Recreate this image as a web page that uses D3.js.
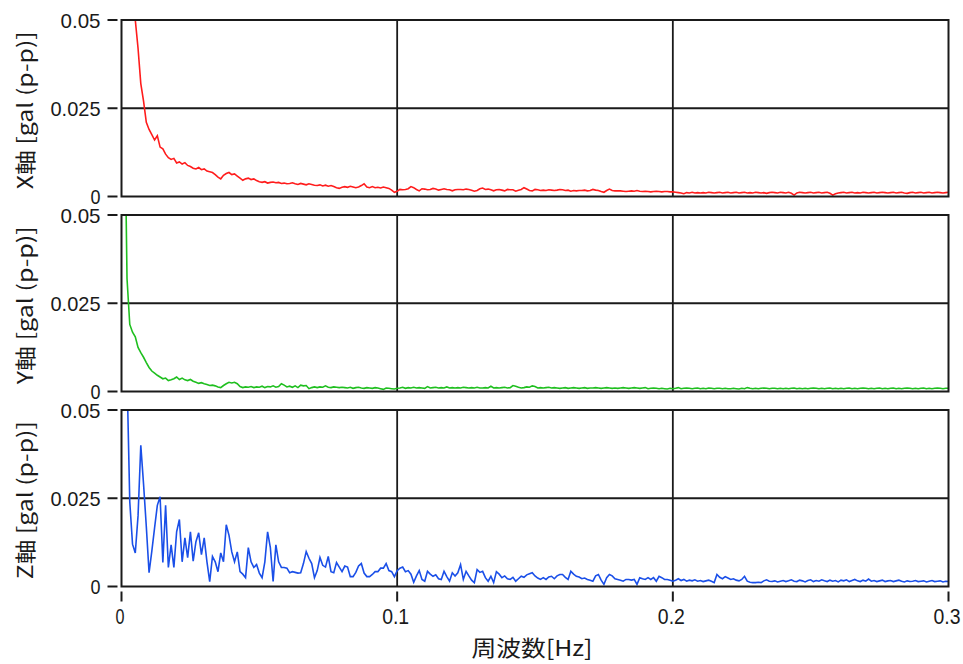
<html>
<head>
<meta charset="utf-8">
<script src="https://d3js.org/d3.v7.min.js"></script>
<style>
  body { margin: 0; background: #fff; }
  text { fill: #1a1a1a; }
</style>
</head>
<body>
<script>
// frequency grid: one value every 0.001 Hz, starting at 0.001 Hz
var fStep = 0.001;
var xTicks = [0, 0.1, 0.2, 0.3];
var xTickLabels = ["0", "0.1", "0.2", "0.3"];
var yTicks = [0, 0.025, 0.05];
var yTickLabels = ["0", "0.025", "0.05"];
var axisNames = ["X軸 [gal (p-p)]", "Y軸 [gal (p-p)]", "Z軸 [gal (p-p)]"];
var xTitle = "周波数[Hz]";
var lineColors = ["#ff1c1c", "#1fbf1f", "#1a4fe8"];

// X軸
var ampX = [
  0.12, 0.075, 0.062, 0.055, 0.05, 0.042, 0.032, 0.027, 0.021, 0.019,
  0.0175, 0.016, 0.0172, 0.014, 0.0135, 0.012, 0.011, 0.0105, 0.0108, 0.0095,
  0.0098, 0.0092, 0.0096, 0.0088, 0.0085, 0.008, 0.0078, 0.0082, 0.0076, 0.0078,
  0.0072, 0.007, 0.0068, 0.0062, 0.0055, 0.005, 0.006, 0.0065, 0.0068, 0.0062,
  0.0064, 0.0058, 0.0052, 0.0046, 0.005, 0.0052, 0.0048, 0.005, 0.0045, 0.0042,
  0.004, 0.0042, 0.0038, 0.004, 0.0041, 0.0039, 0.004, 0.0037, 0.0038, 0.0036,
  0.0037, 0.0039, 0.0036, 0.0034, 0.0037, 0.0035, 0.0033, 0.0036, 0.0034, 0.0032,
  0.0031, 0.0033, 0.003, 0.0032, 0.0029, 0.0031, 0.0028, 0.0025, 0.0023, 0.0026,
  0.0028, 0.0026, 0.0029, 0.0027, 0.0025, 0.0027, 0.0031, 0.0036, 0.0027, 0.0025,
  0.0028, 0.0025, 0.0026, 0.0024, 0.0027, 0.0025, 0.0023, 0.0018, 0.0012, 0.0015,
  0.002, 0.0019, 0.002, 0.0022, 0.0028, 0.0025, 0.002, 0.0016, 0.0022, 0.0021,
  0.0019, 0.002, 0.0023, 0.0021, 0.0018, 0.002, 0.0022, 0.002, 0.0019, 0.0016,
  0.0019, 0.002, 0.002, 0.0019, 0.0021, 0.002, 0.0018, 0.0015, 0.0017, 0.0022,
  0.0024, 0.002, 0.0021, 0.0019, 0.0016, 0.0019, 0.002, 0.0018, 0.0016, 0.002,
  0.0019, 0.0019, 0.0015, 0.0018, 0.002, 0.0025, 0.0021, 0.0017, 0.0016, 0.002,
  0.0019, 0.0017, 0.0018, 0.0017, 0.0019, 0.0018, 0.0017, 0.0018, 0.002, 0.0019,
  0.0017, 0.0018, 0.0015, 0.0017, 0.0016, 0.0017, 0.0017, 0.0018, 0.0016, 0.0017,
  0.002, 0.0018, 0.0017, 0.0014, 0.0012, 0.0017, 0.0021, 0.0017, 0.0016, 0.0016,
  0.0016, 0.0015, 0.0014, 0.0015, 0.0016, 0.0015, 0.0017, 0.0015, 0.0014, 0.0015,
  0.0014, 0.0013, 0.0014, 0.0015, 0.0014, 0.0013, 0.0014, 0.0014, 0.0013, 0.0013,
  0.0012, 0.0011, 0.001, 0.0008, 0.0011, 0.001, 0.0012, 0.001, 0.0011, 0.001,
  0.0011, 0.001, 0.0012, 0.0011, 0.001, 0.0011, 0.0012, 0.001, 0.0011, 0.0012,
  0.001, 0.0011, 0.0012, 0.001, 0.0011, 0.0012, 0.001, 0.0011, 0.001, 0.0012,
  0.0011, 0.001, 0.0011, 0.0009, 0.0011, 0.0012, 0.0011, 0.001, 0.0012, 0.0011,
  0.001, 0.0012, 0.0009, 0.0004, 0.001, 0.0012, 0.0011, 0.001, 0.0011, 0.0012,
  0.001, 0.0011, 0.0012, 0.001, 0.0011, 0.0012, 0.0009, 0.0004, 0.0008, 0.001,
  0.0011, 0.0012, 0.001, 0.0011, 0.0012, 0.001, 0.0011, 0.001, 0.0012, 0.0011,
  0.001, 0.0011, 0.0012, 0.001, 0.0011, 0.0012, 0.0011, 0.001, 0.0011, 0.0012,
  0.001, 0.0011, 0.0012, 0.001, 0.0009, 0.0011, 0.0012, 0.001, 0.0011, 0.0012,
  0.001, 0.0011, 0.0012, 0.001, 0.0011, 0.0012, 0.0011, 0.001, 0.0011, 0.0012
];

// Y軸
var ampY = [
  0.09, 0.032, 0.019, 0.0168, 0.0155, 0.0125, 0.011, 0.0097, 0.0082, 0.0068,
  0.0058, 0.0052, 0.0046, 0.0041, 0.0036, 0.0038, 0.0031, 0.0033, 0.0036, 0.0041,
  0.0034, 0.0038, 0.0033, 0.0031, 0.0034, 0.0029, 0.0026, 0.0023, 0.0025, 0.0022,
  0.002, 0.0017, 0.0018, 0.0016, 0.0013, 0.0011, 0.0017, 0.0022, 0.0026, 0.0024,
  0.0026, 0.0022, 0.0014, 0.0011, 0.0013, 0.0012, 0.0014, 0.0011, 0.0013, 0.0012,
  0.0015, 0.0011, 0.0014, 0.0013, 0.0016, 0.0012, 0.0014, 0.0022, 0.0018, 0.0013,
  0.0015, 0.0012, 0.0016, 0.0011, 0.0018, 0.0016, 0.0017, 0.0008, 0.0011, 0.0013,
  0.0011, 0.0013, 0.0012, 0.0016, 0.0012, 0.0011, 0.0013, 0.0012, 0.0011, 0.0012,
  0.0011, 0.001, 0.0012, 0.0009, 0.0011, 0.0012, 0.001, 0.0009, 0.0011, 0.001,
  0.0009, 0.0011, 0.001, 0.0008, 0.0006, 0.001, 0.0009, 0.0008, 0.0007, 0.0009,
  0.001, 0.0012, 0.0009, 0.0011, 0.001, 0.0012, 0.001, 0.0011, 0.001, 0.0009,
  0.0014, 0.001, 0.0011, 0.0012, 0.001, 0.0011, 0.001, 0.0013, 0.001, 0.0011,
  0.001, 0.0011, 0.001, 0.0012, 0.0011, 0.001, 0.0011, 0.001, 0.0012, 0.001,
  0.001, 0.0011, 0.001, 0.0015, 0.001, 0.0011, 0.001, 0.0011, 0.0012, 0.001,
  0.0011, 0.0017, 0.0015, 0.0012, 0.001, 0.0011, 0.0013, 0.0012, 0.0016, 0.0014,
  0.001, 0.0011, 0.001, 0.0011, 0.0012, 0.001, 0.0011, 0.001, 0.0009, 0.001,
  0.0011, 0.0009, 0.001, 0.0011, 0.001, 0.0009, 0.001, 0.0011, 0.0009, 0.001,
  0.001, 0.0011, 0.001, 0.0009, 0.001, 0.0011, 0.001, 0.0009, 0.001, 0.0009,
  0.001, 0.0011, 0.001, 0.0009, 0.001, 0.0011, 0.001, 0.0009, 0.001, 0.0011,
  0.0008, 0.0009, 0.001, 0.0009, 0.0008, 0.0009, 0.0008, 0.0007, 0.0009, 0.0008,
  0.0009, 0.0011, 0.0008, 0.0009, 0.001, 0.0009, 0.0008, 0.0009, 0.001, 0.0008,
  0.0009, 0.0008, 0.001, 0.0009, 0.0008, 0.0009, 0.0009, 0.0008, 0.0009, 0.0008,
  0.0008, 0.0009, 0.0008, 0.0007, 0.0009, 0.0008, 0.0011, 0.0009, 0.0008, 0.0009,
  0.0008, 0.0009, 0.001, 0.0009, 0.0008, 0.0009, 0.0009, 0.0008, 0.0009, 0.0008,
  0.0009, 0.0008, 0.0009, 0.001, 0.0008, 0.0009, 0.0008, 0.0009, 0.0008, 0.0009,
  0.001, 0.0009, 0.0008, 0.0009, 0.0008, 0.0009, 0.001, 0.0008, 0.0009, 0.0008,
  0.0009, 0.0008, 0.0009, 0.001, 0.0008, 0.0009, 0.0008, 0.0009, 0.001, 0.0009,
  0.0008, 0.0009, 0.0008, 0.0009, 0.001, 0.0008, 0.0009, 0.0008, 0.0009, 0.001,
  0.0008, 0.0009, 0.0008, 0.0009, 0.001, 0.0009, 0.0008, 0.0009, 0.0008, 0.0009,
  0.001, 0.0008, 0.0009, 0.0008, 0.0009, 0.001, 0.0009, 0.0008, 0.0009, 0.0009
];

// Z軸
var ampZ = [
  0.08, 0.06, 0.024, 0.012, 0.0095, 0.02, 0.04, 0.029, 0.017, 0.0039,
  0.010, 0.0166, 0.023, 0.0254, 0.0068, 0.023, 0.0054, 0.0118, 0.0054, 0.0155,
  0.019, 0.007, 0.0138, 0.0082, 0.0155, 0.0072, 0.0127, 0.0152, 0.009, 0.0138,
  0.007, 0.0014, 0.0085, 0.007, 0.0042, 0.0095, 0.007, 0.0175, 0.0145, 0.0098,
  0.007, 0.0098, 0.0042, 0.0035, 0.0025, 0.011, 0.007, 0.0054, 0.0062, 0.0038,
  0.0025, 0.007, 0.0155, 0.011, 0.0014, 0.0118, 0.007, 0.0054, 0.0054, 0.0052,
  0.0039, 0.0042, 0.004, 0.0038, 0.0039, 0.0065, 0.0099, 0.008, 0.0065, 0.0025,
  0.0045, 0.0082, 0.006, 0.0055, 0.0085, 0.0042, 0.0039, 0.0068, 0.0055, 0.0042,
  0.0058, 0.0055, 0.0028, 0.0028, 0.004, 0.0058, 0.0065, 0.0038, 0.0028, 0.0028,
  0.0034, 0.0042, 0.0042, 0.0052, 0.0052, 0.0065, 0.0045, 0.0042, 0.0028, 0.0045,
  0.0052, 0.0055, 0.0042, 0.0045, 0.0035, 0.0012, 0.003, 0.0045, 0.002, 0.0015,
  0.0043, 0.0035, 0.0029, 0.0033, 0.0022, 0.002, 0.0043, 0.0028, 0.0015, 0.0039,
  0.003, 0.0039, 0.0062, 0.002, 0.0043, 0.003, 0.0018, 0.0011, 0.0048, 0.004,
  0.0043, 0.0025, 0.0015, 0.0029, 0.0011, 0.0042, 0.0035, 0.0025, 0.003, 0.0022,
  0.002, 0.0026, 0.0015, 0.0022, 0.0029, 0.0026, 0.0033, 0.0036, 0.0039, 0.003,
  0.0024, 0.002, 0.0025, 0.002, 0.0027, 0.0029, 0.0022, 0.003, 0.0034, 0.0034,
  0.0026, 0.002, 0.0043, 0.0035, 0.0029, 0.0027, 0.0022, 0.0024, 0.002, 0.0018,
  0.0015, 0.003, 0.0034, 0.0018, 0.0006, 0.0025, 0.0034, 0.003, 0.0022, 0.002,
  0.0018, 0.0015, 0.002, 0.002, 0.0018, 0.002, 0.0006, 0.0025, 0.0022, 0.002,
  0.0025, 0.002, 0.0025, 0.0015, 0.0029, 0.0025, 0.002, 0.002, 0.0018, 0.0015,
  0.0018, 0.0022, 0.0017, 0.002, 0.0015, 0.0018, 0.0016, 0.0019, 0.0015, 0.0017,
  0.0014, 0.0016, 0.0018, 0.0015, 0.0011, 0.0034, 0.0026, 0.0022, 0.0028, 0.0024,
  0.002, 0.0022, 0.0018, 0.0016, 0.002, 0.0029, 0.0015, 0.0012, 0.0011, 0.0011,
  0.0012, 0.0011, 0.0016, 0.0019, 0.0015, 0.0014, 0.0016, 0.0013, 0.0015, 0.0017,
  0.0014, 0.0016, 0.0019, 0.0015, 0.0014, 0.0018, 0.0016, 0.0013, 0.0017, 0.0019,
  0.0014, 0.0017, 0.0015, 0.0019, 0.0016, 0.0014, 0.0018, 0.0015, 0.0017, 0.0013,
  0.0018, 0.0016, 0.0019, 0.0014, 0.0017, 0.002, 0.0016, 0.0014, 0.0018, 0.0015,
  0.0021, 0.0015, 0.0017, 0.0014, 0.0016, 0.0018, 0.0014, 0.0016, 0.0017, 0.0014,
  0.0016, 0.0018, 0.0015, 0.0013, 0.0016, 0.0014, 0.0015, 0.0017, 0.0014, 0.0015,
  0.0016, 0.0013, 0.0015, 0.0017, 0.0014, 0.0015, 0.0016, 0.0013, 0.0015, 0.0014
];

var series = [ampX, ampY, ampZ];

var W = 963, H = 664;
var left = 121.5, right = 948.5;
var panelTops = [20, 215, 410];
var panelH = 176.5;
var numFont = '"Liberation Sans Narrow", "Liberation Sans", sans-serif';
var jpFont = '"Noto Sans CJK JP", "Liberation Sans Narrow", sans-serif';

var svg = d3.select("body").append("svg").attr("width", W).attr("height", H);

// x尺度
var x = d3.scaleLinear().domain([0, 0.3]).range([left, right]);

series.forEach(function(vals, p){
  var top = panelTops[p];
  var y = d3.scaleLinear().domain([0, 0.05]).range([top + panelH, top]);
  var g = svg.append("g");

  g.append("clipPath").attr("id", "clip" + p)
    .append("rect").attr("x", left).attr("y", top).attr("width", right - left).attr("height", panelH);

  // 格子線
  g.selectAll(".gx").data(xTicks.slice(1, -1)).enter().append("line")
    .attr("x1", function(d){ return x(d); }).attr("x2", function(d){ return x(d); })
    .attr("y1", top).attr("y2", top + panelH)
    .attr("stroke", "#1a1a1a").attr("stroke-width", 1.8);
  g.selectAll(".gy").data(yTicks.slice(1, -1)).enter().append("line")
    .attr("x1", left).attr("x2", right)
    .attr("y1", function(d){ return y(d); }).attr("y2", function(d){ return y(d); })
    .attr("stroke", "#1a1a1a").attr("stroke-width", 1.8);

  // 線
  var pts = vals.map(function(v, i){ return [(i + 1) * fStep, v]; });
  var line = d3.line().x(function(d){ return x(d[0]); }).y(function(d){ return y(d[1]); });
  g.append("path").datum(pts)
    .attr("d", line)
    .attr("clip-path", "url(#clip" + p + ")")
    .attr("fill", "none").attr("stroke", lineColors[p]).attr("stroke-width", 1.6)
    .attr("stroke-linejoin", "miter");

  // 枠
  g.append("rect").attr("x", left).attr("y", top).attr("width", right - left).attr("height", panelH)
    .attr("fill", "none").attr("stroke", "#1a1a1a").attr("stroke-width", 2);

  // y目盛り
  g.selectAll(".ty").data(yTicks).enter().append("line")
    .attr("x1", left - 14).attr("x2", left - 4)
    .attr("y1", function(d){ return y(d); }).attr("y2", function(d){ return y(d); })
    .attr("stroke", "#1a1a1a").attr("stroke-width", 2);
  g.selectAll(".ly").data(yTicks).enter().append("text")
    .attr("x", left - 21).attr("y", function(d){ return y(d) + 7.5; })
    .attr("text-anchor", "end")
    .attr("font-family", numFont).attr("font-size", 21)
    .attr("textLength", function(d, i){ return yTickLabels[i].length * 10; })
    .attr("lengthAdjust", "spacingAndGlyphs")
    .text(function(d, i){ return yTickLabels[i]; });

  // 軸名
  g.append("text")
    .attr("transform", "translate(33," + (top + panelH / 2 + 2) + ") rotate(-90)")
    .attr("text-anchor", "middle")
    .attr("font-family", jpFont).attr("font-size", 21)
    .attr("textLength", 158).attr("lengthAdjust", "spacingAndGlyphs")
    .text(axisNames[p]);
});

// x目盛り
var bottom = panelTops[2] + panelH;
svg.selectAll(".tx").data(xTicks).enter().append("line")
  .attr("x1", function(d){ return x(d); }).attr("x2", function(d){ return x(d); })
  .attr("y1", bottom + 5).attr("y2", bottom + 15)
  .attr("stroke", "#1a1a1a").attr("stroke-width", 2);
svg.selectAll(".lx").data(xTicks).enter().append("text")
  .attr("x", function(d){ return x(d) - 1.5; }).attr("y", bottom + 37)
  .attr("text-anchor", "middle")
  .attr("font-family", numFont).attr("font-size", 22)
  .attr("textLength", function(d, i){ return xTickLabels[i].length * 9; })
  .attr("lengthAdjust", "spacingAndGlyphs")
  .text(function(d, i){ return xTickLabels[i]; });

svg.append("text")
  .attr("x", 532).attr("y", 656)
  .attr("text-anchor", "middle")
  .attr("font-family", jpFont).attr("font-size", 22)
  .attr("textLength", 121).attr("lengthAdjust", "spacingAndGlyphs")
  .text(xTitle);
</script>
</body>
</html>
